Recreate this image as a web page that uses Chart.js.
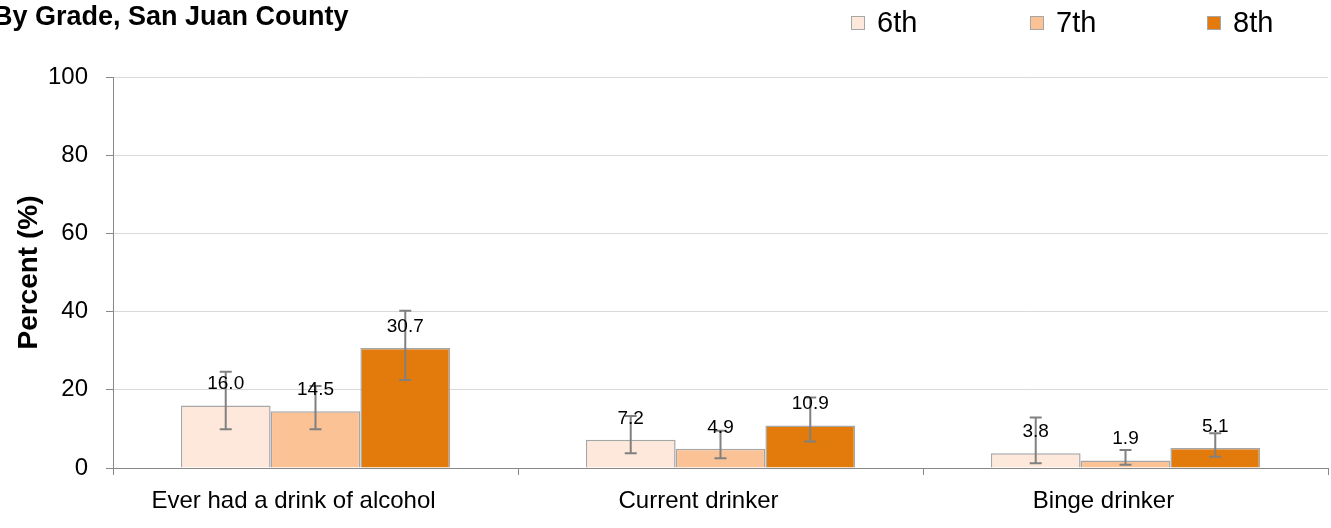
<!DOCTYPE html>
<html>
<head>
<meta charset="utf-8">
<script src="https://cdn.jsdelivr.net/npm/chart.js@4.4.1/dist/chart.umd.min.js"></script>
<style>
  html, body { margin: 0; padding: 0; background: #fff; }
  #wrap { position: relative; width: 1331px; height: 528px; overflow: hidden; }
  #title { position: absolute; left: -7px; top: 1px; font: bold 27px "Liberation Sans", Arial, sans-serif; color: #000; white-space: nowrap; }
  #legend { position: absolute; top: 6px; left: 0; width: 1331px; height: 40px; }
  .lg { position: absolute; top: 0; font: 29px "Liberation Sans", Arial, sans-serif; color: #000; white-space: nowrap; }
  .lg i { display: inline-block; width: 12px; height: 12px; border: 1px solid #a6a6a6; margin-right: 12px; vertical-align: 2px; }
</style>
</head>
<body>
<div id="wrap">
  <canvas id="chart" width="1331" height="528"></canvas>
  <div id="title">By Grade, San Juan County</div>
  <div id="legend"></div>
</div>
<script>
// ===== Data =====
const categories = ['Ever had a drink of alcohol', 'Current drinker', 'Binge drinker'];
const grades = ['6th', '7th', '8th'];
const colors = ['#FDE8DB', '#FBC296', '#E27B0B'];
const legendX = [851, 1030, 1207];

const sixth = [16.0, 7.2, 3.8];
const seventh = [14.5, 4.9, 1.9];
const eighth = [30.7, 10.9, 5.1];

// confidence intervals (low / high)
const sixthLow = [9.9, 3.8, 1.2];
const sixthHigh = [24.6, 13.3, 12.9];
const seventhLow = [9.9, 2.5, 0.8];
const seventhHigh = [21.0, 9.5, 4.6];
const eighthLow = [22.5, 6.8, 2.9];
const eighthHigh = [40.2, 18.0, 8.9];

const yTicks = [0, 20, 40, 60, 80, 100];

const values = [sixth, seventh, eighth];
const lows = [sixthLow, seventhLow, eighthLow];
const highs = [sixthHigh, seventhHigh, eighthHigh];

// ===== Legend (html) =====
const legend = document.getElementById('legend');
grades.forEach(function(g, i){
    const d = document.createElement('div');
    d.className = 'lg';
    d.style.left = legendX[i] + 'px';
    d.innerHTML = '<i style="background:' + colors[i] + '"></i>' + g;
    legend.appendChild(d);
});

// ===== Error bars + value labels =====
const errorBars = {
    id: 'errorBars',
    afterDatasetsDraw(chart){
        const ctx = chart.ctx;
        const y = chart.scales.y;
        ctx.save();
        chart.data.datasets.forEach(function(ds, di){
            const meta = chart.getDatasetMeta(di);
            meta.data.forEach(function(bar, i){
                const x = bar.x;
                const yl = y.getPixelForValue(lows[di][i]);
                const yh = y.getPixelForValue(highs[di][i]);
                ctx.strokeStyle = '#808080';
                ctx.lineWidth = 2;
                ctx.beginPath();
                ctx.moveTo(x, yl); ctx.lineTo(x, yh);
                ctx.moveTo(x - 6, yl); ctx.lineTo(x + 6, yl);
                ctx.moveTo(x - 6, yh); ctx.lineTo(x + 6, yh);
                ctx.stroke();
            });
        });
        chart.data.datasets.forEach(function(ds, di){
            const meta = chart.getDatasetMeta(di);
            meta.data.forEach(function(bar, i){
                ctx.fillStyle = '#000';
                ctx.font = '19px "Liberation Sans", Arial, sans-serif';
                ctx.textAlign = 'center';
                ctx.textBaseline = 'bottom';
                ctx.fillText(ds.data[i].toFixed(1), bar.x, bar.y - 12);
            });
        });
        ctx.restore();
    }
};

new Chart(document.getElementById('chart').getContext('2d'), {
    type: 'bar',
    data: {
        labels: categories,
        datasets: grades.map(function(g, i){
            return {
                label: g,
                data: values[i],
                backgroundColor: colors[i],
                borderColor: '#A6A6A6',
                borderWidth: 1.5,
                barPercentage: 1,
                categoryPercentage: 0.665
            };
        })
    },
    options: {
        responsive: false,
        animation: false,
        layout: { padding: { top: 77, right: 3, left: 0, bottom: 0 } },
        plugins: { legend: { display: false }, tooltip: { enabled: false } },
        scales: {
            x: {
                grid: { display: true, drawOnChartArea: false, offset: true, color: '#888', tickLength: 7 },
                border: { color: '#888', width: 1 },
                ticks: { color: '#000', font: { family: 'Liberation Sans', size: 24 }, padding: 12, labelOffset: -22 },
                afterFit(scale){ scale.height = 60; }
            },
            y: {
                min: 0, max: 100,
                afterBuildTicks(scale){ scale.ticks = yTicks.map(function(v){ return { value: v }; }); },
                grid: { color: '#D9D9D9', tickColor: '#888', tickLength: 7 },
                border: { color: '#888', width: 1 },
                ticks: { color: '#000', font: { family: 'Liberation Sans', size: 24 }, padding: 18 },
                title: { display: true, text: 'Percent (%)', color: '#000', font: { family: 'Liberation Sans', size: 28, weight: 'bold' }, padding: { top: 12, bottom: 0 } },
                afterFit(scale){ scale.width = 113; }
            }
        }
    },
    plugins: [errorBars]
});
</script>
</body>
</html>
